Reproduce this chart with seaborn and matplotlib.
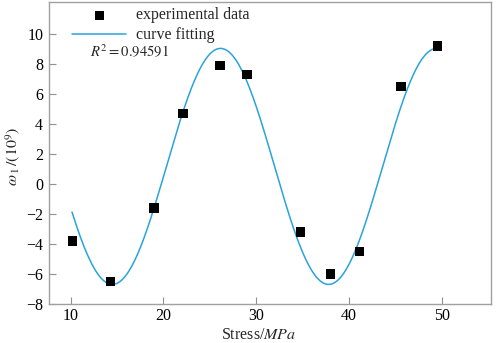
import numpy as np
import pandas as pd
import seaborn as sns
import matplotlib
matplotlib.use("Agg")
import matplotlib.pyplot as plt

# experimental points
stress = [10.2, 14.3, 19.0, 22.1, 26.1, 29.0, 34.8, 38.0, 41.1, 45.6, 49.5]
omega = [-3.8, -6.5, -1.6, 4.7, 7.9, 7.3, -3.2, -6.0, -4.5, 6.5, 9.2]

# sine fit parameters
y0 = 1.17
amp = 7.87
period = 23.3
x_min = 14.5
fit_start, fit_end = 10.15, 49.35
r2_text = r"$R^2=0.94591$"

sns.set_style("ticks")
plt.rcParams["font.family"] = ["Liberation Serif", "DejaVu Serif"]
plt.rcParams["mathtext.fontset"] = "stix"

df = pd.DataFrame({"stress": stress, "omega": omega})
xs = np.linspace(fit_start, fit_end, 400)
fit = pd.DataFrame({"stress": xs,
                    "omega": y0 - amp * np.cos(2 * np.pi * (xs - x_min) / period)})

fig = plt.figure(figsize=(4.98, 3.43), dpi=100)
ax = fig.add_axes([0.098, 0.114, 0.888, 0.880])

sns.scatterplot(data=df, x="stress", y="omega", marker="s", s=45, color="black",
                edgecolor="none", label="experimental data", ax=ax, zorder=3)
sns.lineplot(data=fit, x="stress", y="omega", color="#2aa3dc", linewidth=1.1,
             label="curve fitting", ax=ax)

ax.set_xlim(7.65, 55.3)
ax.set_ylim(-8, 12.13)
ax.set_xticks([10, 20, 30, 40, 50])
ax.set_yticks(range(-8, 11, 2))
ax.tick_params(direction="in", length=5, width=0.8, color="#909090",
               labelsize=11.5, labelcolor="black", pad=4)
ax.tick_params(axis="x", pad=3)
for s in ax.spines.values():
    s.set_visible(True)
    s.set_color("#a0a0a0")
    s.set_linewidth(1.0)

ax.set_xlabel("Stress/$MPa$", fontsize=11.5)
ax.xaxis.set_label_coords(0.475, -0.077)
ax.set_ylabel(r"$\omega_{\,1}\,/(10^9)$", fontsize=11.5)
ax.yaxis.set_label_coords(-0.06, 0.49)

leg = ax.legend(loc="upper left", bbox_to_anchor=(0.02, 1.03), frameon=False,
                fontsize=11.5, handlelength=3.4, handletextpad=0.6, labelspacing=0.25,
                markerscale=1.0)
ax.text(0.093, 0.834, r2_text, transform=ax.transAxes, fontsize=10.5, va="center")

fig.savefig("out.png", dpi=100)
